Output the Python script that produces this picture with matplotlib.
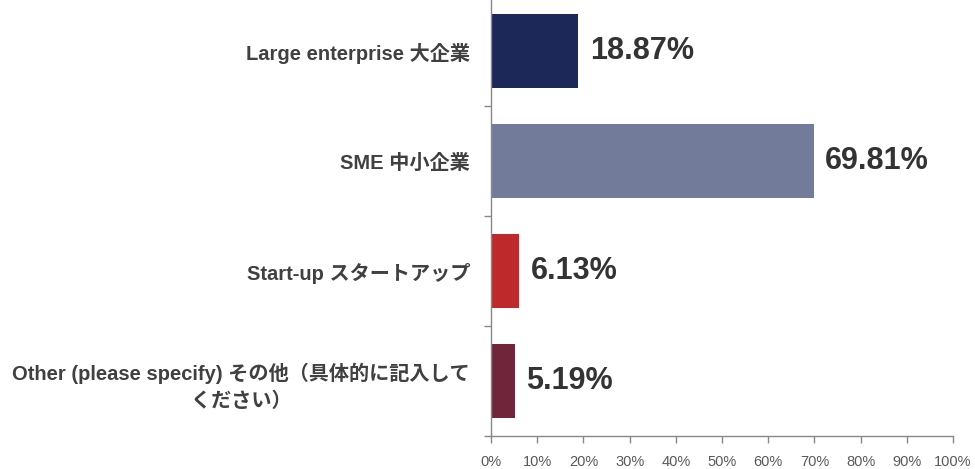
import matplotlib.pyplot as plt
import numpy as np

categories = [
    "Large enterprise 大企業",
    "SME 中小企業",
    "Start-up スタートアップ",
    "Other (please specify) その他（具体的に記入して\nください）",
]
values = [18.87, 69.81, 6.13, 5.19]
colors = ["#1C2857", "#737B9A", "#BE2A2C", "#70253B"]
xticks = list(range(0, 101, 10))

plt.rcParams['font.family'] = ['Liberation Sans', 'Noto Sans CJK JP', 'DejaVu Sans']

fig = plt.figure(figsize=(9.75, 4.69), dpi=100)
ax = fig.add_axes([491 / 975, 1 - 436 / 469, 462 / 975, 440 / 469])

y = np.arange(len(categories))
ax.barh(y, values, height=0.67, color=colors)
ax.set_xlim(0, 100)
ax.set_ylim(len(categories) - 0.5, -0.5)

for yi, v in zip(y, values):
    ax.text(v + 2.5, yi, f"{v:.2f}%", va='center', ha='left', fontsize=22,
            fontweight='bold', color='#333333')

ax.set_yticks(y)
ax.set_yticklabels(categories, fontsize=14.5, fontweight='bold', color='#404040',
                   linespacing=1.5)
for lab in ax.get_yticklabels():
    lab.set_multialignment('center')
ax.tick_params(axis='y', which='major', length=0, pad=15)
ax.set_yticks(np.arange(-0.5, len(categories), 1), minor=True)
ax.tick_params(axis='y', which='minor', length=5, color='#888888', width=1)

ax.set_xticks(xticks)
ax.set_xticklabels([f"{t}%" for t in xticks], fontsize=10.5, color='#595959')
ax.tick_params(axis='x', length=5, color='#888888', width=1, pad=9)

for s in ['top', 'right']:
    ax.spines[s].set_visible(False)
for s in ['left', 'bottom']:
    ax.spines[s].set_color('#888888')
    ax.spines[s].set_linewidth(1)

fig.savefig("out.png", dpi=100)
